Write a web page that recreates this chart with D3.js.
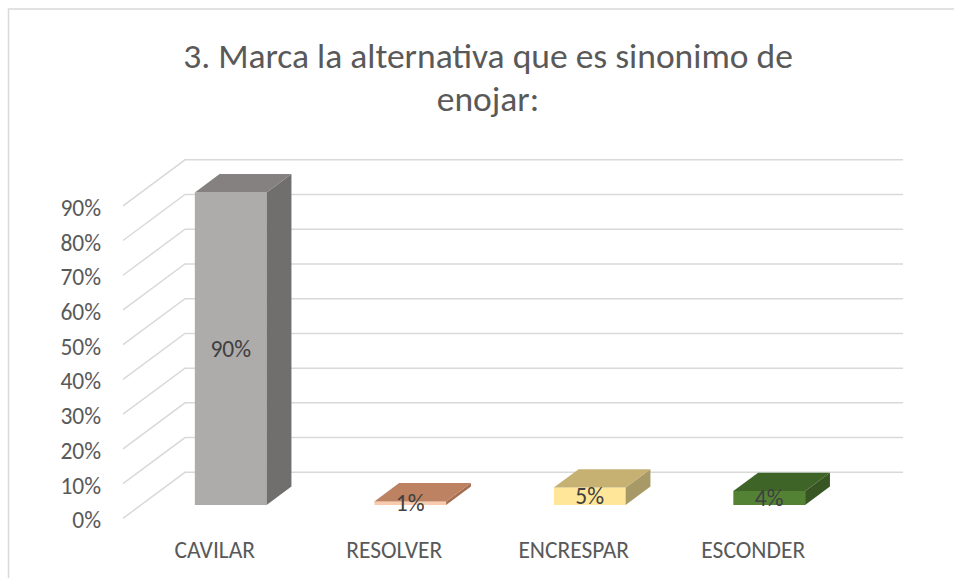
<!DOCTYPE html>
<html><head><meta charset="utf-8">
<script src="https://cdn.jsdelivr.net/npm/d3@7"></script>
<style>body{margin:0;background:#fff}</style></head><body>
<svg id="c" width="954" height="578"></svg>
<script>
const categories = ["CAVILAR", "RESOLVER", "ENCRESPAR", "ESCONDER"];
const values = [0.90, 0.01, 0.05, 0.04];
const valueLabels = ["90%", "1%", "5%", "4%"];
const yTicks = [0, 0.1, 0.2, 0.3, 0.4, 0.5, 0.6, 0.7, 0.8, 0.9];
const titleLines = ["3. Marca la alternativa que es sinonimo de", "enojar:"];
const frontColors = ["#AEABAB", "#F8CBAD", "#FFE699", "#548235"];
const topColors = ["#858181", "#BC8262", "#C6B173", "#3F6428"];
const sideColors = ["#716E6E", "#A66E51", "#A89A66", "#375623"];

const FONT = "Carlito, Calibri, Lato, 'Open Sans', sans-serif";
const svg = d3.select("#c");
svg.append("rect").attr("width", 954).attr("height", 578).attr("fill", "#fff");
// chart border
svg.append("rect").attr("x", 8.5).attr("y", 9).attr("width", 1000).attr("height", 700)
  .attr("fill", "none").attr("stroke", "#D9D9D9").attr("stroke-width", 1.5);

const X0 = 123, X1 = 841, DX = 62, DY = 46, D0 = 0.29, D1 = 0.69;
const x = d3.scaleBand().domain(categories).range([X0, X1]).paddingInner(0.6).paddingOuter(0.3);
const y = d3.scaleLinear().domain([0, 0.9]).range([518.3, 205.8]);
const proj = (x3, v, d) => [x3 + DX * d, y(v) - DY * d];

// gridlines
const grid = svg.append("g").attr("stroke", "#D9D9D9").attr("stroke-width", 1.5).attr("fill", "none");
yTicks.forEach(t => {
  const a = proj(X0, t, 0), b = proj(X0, t, 1), c = proj(X1, t, 1);
  grid.append("path").attr("d", `M${a}L${b}L${c}`);
});

// bars
const bars = svg.append("g");
categories.forEach((cat, i) => {
  const v = values[i];
  const x0 = x(cat), x1 = x0 + x.bandwidth();
  const poly = (pts, fill) => bars.append("path").attr("d", "M" + pts.map(p => p.join(",")).join("L") + "Z").attr("fill", fill);
  poly([proj(x0, 0, D0), proj(x1, 0, D0), proj(x1, v, D0), proj(x0, v, D0)], frontColors[i]);
  poly([proj(x1, 0, D0), proj(x1, 0, D1), proj(x1, v, D1), proj(x1, v, D0)], sideColors[i]);
  poly([proj(x0, v, D0), proj(x1, v, D0), proj(x1, v, D1), proj(x0, v, D1)], topColors[i]);
});

// data labels
categories.forEach((cat, i) => {
  const cx = x(cat) + x.bandwidth() / 2 + DX * D0;
  const cy = (y(0) + y(values[i])) / 2 - DY * D0;
  svg.append("text").attr("x", cx).attr("y", cy).attr("text-anchor", "middle")
    .attr("dominant-baseline", "central").attr("font-family", FONT).attr("font-size", 23.5)
    .attr("fill", "#404040").text(valueLabels[i]);
});

// y axis
const yAxis = svg.append("g").attr("transform", "translate(101,2)")
  .call(d3.axisLeft(y).tickValues(yTicks).tickFormat(d3.format(".0%")).tickSize(0).tickPadding(0));
yAxis.select(".domain").remove();
yAxis.selectAll("text").attr("font-family", FONT).attr("font-size", 23.5).attr("fill", "#595959");

// category axis
const xAxis = svg.append("g").attr("transform", "translate(2,550)")
  .call(d3.axisBottom(x).tickSize(0).tickPadding(0));
xAxis.select(".domain").remove();
xAxis.selectAll("text").attr("dy", "0.35em").attr("font-family", FONT).attr("font-size", 23.5).attr("fill", "#595959");

// title
titleLines.forEach((t, i) => {
  svg.append("text").attr("x", 488).attr("y", 55.5 + i * 43).attr("text-anchor", "middle")
    .attr("dominant-baseline", "central").attr("font-family", FONT).attr("font-size", 35.5)
    .attr("fill", "#595959").text(t);
});
</script></body></html>
